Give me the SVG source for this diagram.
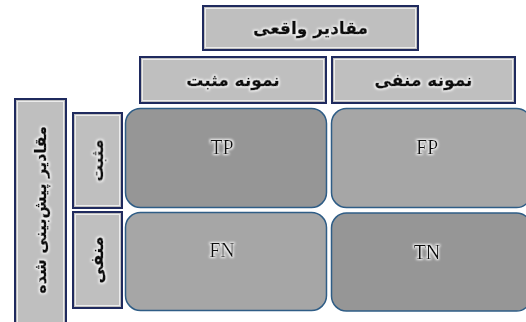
<svg xmlns="http://www.w3.org/2000/svg" width="526" height="322" viewBox="0 0 526 322">
<defs>
<filter id="glow" x="-20%" y="-30%" width="140%" height="160%">
<feMorphology in="SourceAlpha" operator="dilate" radius="1" result="d"/>
<feGaussianBlur in="d" stdDeviation="0.8" result="b"/>
<feFlood flood-color="#ffffff" flood-opacity="0.9"/>
<feComposite in2="b" operator="in" result="w"/>
<feMerge><feMergeNode in="w"/><feMergeNode in="SourceGraphic"/></feMerge>
</filter>
</defs>
<style>
.hdr{fill:#bfbfbf;stroke:#1f2a5e;stroke-width:2}
.inner{fill:none;stroke:#ececec;stroke-width:1}
.cell{stroke:#2f5d86;stroke-width:1.5}
.dark{fill:#969696}
.light{fill:#a6a6a6}
.fa{font-family:"DejaVu Sans",sans-serif;font-weight:bold;font-size:17px;fill:#111;stroke:#111;stroke-width:0.6;text-anchor:middle;filter:url(#glow)}
.en{font-family:"Liberation Serif",serif;font-size:20px;fill:#111;text-anchor:middle;filter:url(#glow)}
</style>
<rect width="526" height="322" fill="#ffffff"/>
<g id="actual">
<rect class="hdr" x="203" y="6" width="215" height="44"/>
<rect class="inner" x="205.5" y="8.5" width="210" height="39"/>
<text class="fa" x="310.5" y="34" direction="rtl">مقادیر واقعی</text>
</g>
<g id="actual-positive">
<rect class="hdr" x="140" y="57" width="186" height="46"/>
<rect class="inner" x="142.5" y="59.5" width="181" height="41"/>
<text class="fa" x="233" y="86" direction="rtl">نمونه مثبت</text>
</g>
<g id="actual-negative">
<rect class="hdr" x="332" y="57" width="183" height="46"/>
<rect class="inner" x="334.5" y="59.5" width="178" height="41"/>
<text class="fa" x="423.5" y="86" direction="rtl">نمونه منفی</text>
</g>
<g id="predicted">
<rect class="hdr" x="15" y="99" width="51" height="235"/>
<rect class="inner" x="17.5" y="101.5" width="46" height="230"/>
<text class="fa" transform="translate(46,210) rotate(-90)" x="0" y="0" direction="rtl" style="font-size:16px">مقادیر پیش‌بینی شده</text>
</g>
<g id="predicted-positive">
<rect class="hdr" x="73" y="113" width="49" height="95"/>
<rect class="inner" x="75.5" y="115.5" width="44" height="90"/>
<text class="fa" transform="translate(103,160.5) rotate(-90)" x="0" y="0" direction="rtl">مثبت</text>
</g>
<g id="predicted-negative">
<rect class="hdr" x="73" y="212" width="49" height="96"/>
<rect class="inner" x="75.5" y="214.5" width="44" height="91"/>
<text class="fa" transform="translate(103,260) rotate(-90)" x="0" y="0" direction="rtl">منفی</text>
</g>
<g id="TP">
<rect class="cell dark" x="125.5" y="108.5" width="201" height="99" rx="15"/>
<text class="en" x="222" y="154">TP</text>
</g>
<g id="FP">
<rect class="cell light" x="331.5" y="108.5" width="200" height="99" rx="15"/>
<text class="en" x="427" y="154">FP</text>
</g>
<g id="FN">
<rect class="cell light" x="125.5" y="212.5" width="201" height="98" rx="15"/>
<text class="en" x="222" y="257">FN</text>
</g>
<g id="TN">
<rect class="cell dark" x="331.5" y="213" width="200" height="98" rx="15"/>
<text class="en" x="427" y="259">TN</text>
</g>
<g id="connectors"></g>
</svg>
